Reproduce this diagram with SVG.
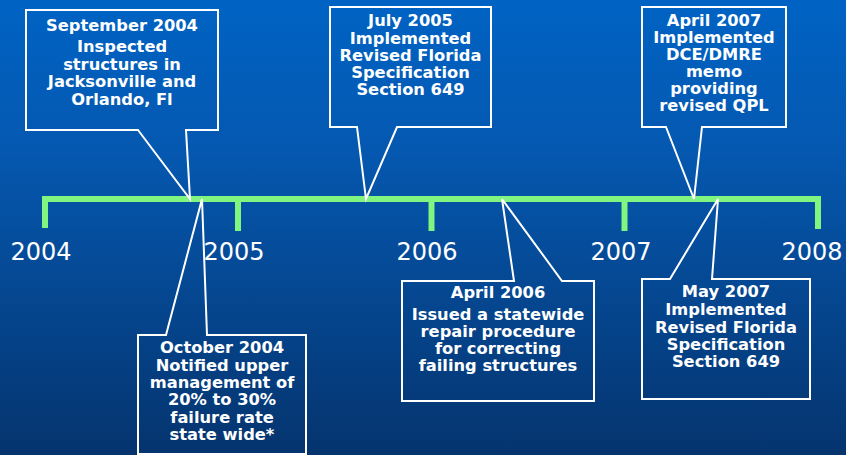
<svg xmlns="http://www.w3.org/2000/svg" width="846" height="455" viewBox="0 0 846 455">
<defs>
<linearGradient id="bg" x1="0" y1="0" x2="0" y2="1">
<stop offset="0" stop-color="#0063C4"/>
<stop offset="0.33" stop-color="#0558B0"/>
<stop offset="1" stop-color="#05346E"/>
</linearGradient>
</defs>
<style>
.call{fill:none;stroke:#FFFFFF;stroke-width:2;stroke-linejoin:miter}
.lbl{font-family:"DejaVu Sans",Verdana,sans-serif;font-weight:bold;font-size:16.3px;fill:#FFFFFF;text-anchor:middle}
.yr{font-family:"DejaVu Sans",Verdana,sans-serif;font-size:24px;fill:#FFFFFF;text-anchor:middle}
.tl{fill:none;stroke:#80F580;stroke-width:6}
</style>
<rect x="0" y="0" width="846" height="455" fill="url(#bg)"/>
<g id="timeline">
<path class="tl" d="M45,228 V199 H818 V229"/>
<path class="tl" d="M238,199 V231 M431.5,199 V231 M624.5,199 V231"/>
<text class="yr" x="41" y="260">2004</text>
<text class="yr" x="234" y="260">2005</text>
<text class="yr" x="427" y="260">2006</text>
<text class="yr" x="621" y="260">2007</text>
<text class="yr" x="812" y="260">2008</text>
</g>
<g id="sep2004">
<path class="call" d="M138,130 L190,199 L186,130 H218 V10 H26 V130 Z"/>
<text class="lbl" x="122" y="31">September 2004</text>
<text class="lbl" x="122" y="52">Inspected</text>
<text class="lbl" x="122" y="69.5">structures in</text>
<text class="lbl" x="122" y="87">Jacksonville and</text>
<text class="lbl" x="122" y="104.5">Orlando, Fl</text>
</g>
<g id="jul2005">
<path class="call" d="M357,127 L366,199 L397,127 H491 V7 H330 V127 Z"/>
<text class="lbl" x="410.5" y="26">July 2005</text>
<text class="lbl" x="410.5" y="43.5">Implemented</text>
<text class="lbl" x="410.5" y="61">Revised Florida</text>
<text class="lbl" x="410.5" y="78">Specification</text>
<text class="lbl" x="410.5" y="95">Section 649</text>
</g>
<g id="apr2007">
<path class="call" d="M666,127 L694,199 L702,127 H786 V7 H642 V127 Z"/>
<text class="lbl" x="714" y="26">April 2007</text>
<text class="lbl" x="714" y="43">Implemented</text>
<text class="lbl" x="714" y="60">DCE/DMRE</text>
<text class="lbl" x="714" y="77">memo</text>
<text class="lbl" x="714" y="94">providing</text>
<text class="lbl" x="714" y="111">revised QPL</text>
</g>
<g id="oct2004">
<path class="call" d="M166,335 L202,199 L207,335 H306 V454 H138 V335 Z"/>
<text class="lbl" x="222" y="353">October 2004</text>
<text class="lbl" x="222" y="370.5">Notified upper</text>
<text class="lbl" x="222" y="388">management of</text>
<text class="lbl" x="222" y="405">20% to 30%</text>
<text class="lbl" x="222" y="422.5">failure rate</text>
<text class="lbl" x="222" y="439.5">state wide*</text>
</g>
<g id="apr2006">
<path class="call" d="M514,281 L502,199 L562,281 H594 V401 H402 V281 Z"/>
<text class="lbl" x="498" y="298">April 2006</text>
<text class="lbl" x="498" y="320">Issued a statewide</text>
<text class="lbl" x="498" y="337">repair procedure</text>
<text class="lbl" x="498" y="354">for correcting</text>
<text class="lbl" x="498" y="371">failing structures</text>
</g>
<g id="may2007">
<path class="call" d="M670,279 L718,199 L712,279 H810 V399 H642 V279 Z"/>
<text class="lbl" x="726" y="297">May 2007</text>
<text class="lbl" x="726" y="315">Implemented</text>
<text class="lbl" x="726" y="332.5">Revised Florida</text>
<text class="lbl" x="726" y="349.5">Specification</text>
<text class="lbl" x="726" y="367">Section 649</text>
</g>
</svg>
